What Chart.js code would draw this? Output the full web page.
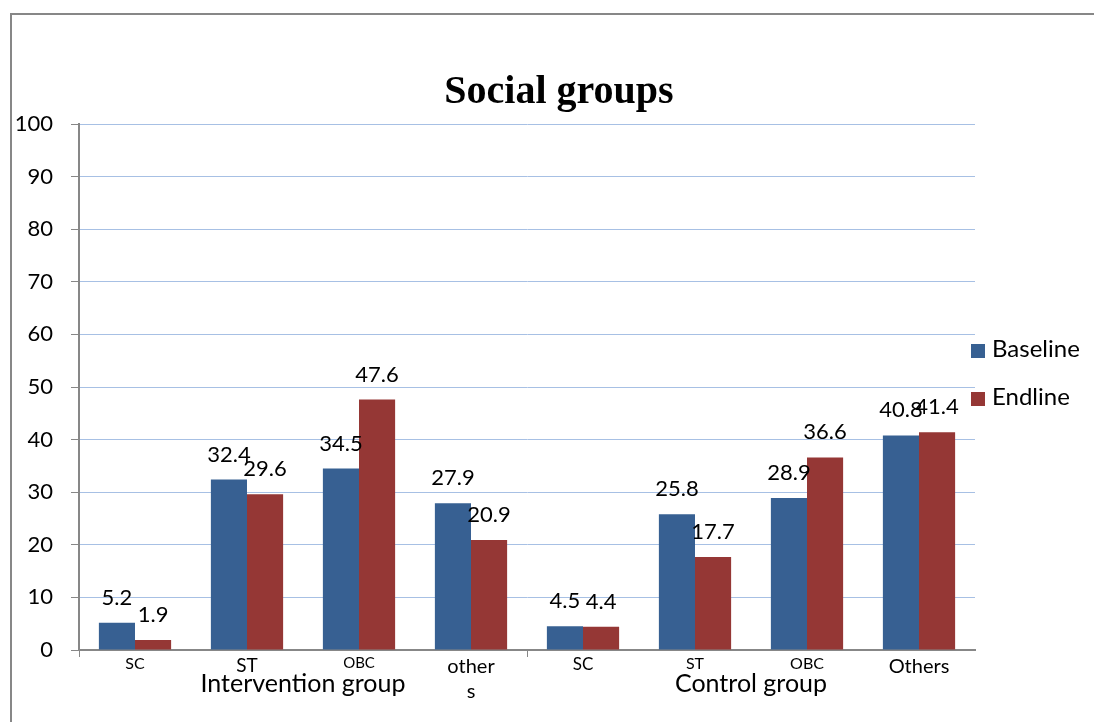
<!DOCTYPE html>
<html>
<head>
<meta charset="utf-8">
<title>Social groups</title>
<script src="https://cdn.jsdelivr.net/npm/chart.js@4/dist/chart.umd.min.js"></script>
<style>
  html, body { margin: 0; padding: 0; background: #fff; }
  #page { position: relative; width: 1094px; height: 722px; overflow: hidden; }
  #frame {
    position: absolute; left: 10px; top: 13px; width: 1200px; height: 800px;
    border-left: 2px solid #878787; border-top: 2px solid #878787;
  }
  #wrap { position: absolute; left: 0; top: 0; width: 1094px; height: 722px; }
  #title {
    position: absolute; left: 0; top: 66px; width: 1118px; text-align: center;
    font: bold 40px "Liberation Serif", "Times New Roman", serif; line-height: 48px; color: #000;
  }
  #legend { position: absolute; left: 971px; top: 334px; font: 24px Lato, sans-serif; color: #000; }
  #legend .item { height: 48px; line-height: 28px; white-space: nowrap; }
  #legend .swatch { display: inline-block; width: 14px; height: 14px; margin-right: 7px; vertical-align: -1px; }
</style>
</head>
<body>
<div id="page">
  <div id="frame"></div>
  <div id="wrap"><canvas id="socialChart"></canvas></div>
  <div id="title">Social groups</div>
  <div id="legend"></div>
</div>
<script>
// categories, two per-survey series and the group captions under the axis
const categories = ['SC', 'ST', 'OBC', ['other', 's'], 'SC', 'ST', 'OBC', 'Others'];
const baseline = [5.2, 32.4, 34.5, 27.9, 4.5, 25.8, 28.9, 40.8];
const endline = [1.9, 29.6, 47.6, 20.9, 4.4, 17.7, 36.6, 41.4];
const groups = ['Intervention group', 'Control group'];
const yTicks = [0, 10, 20, 30, 40, 50, 60, 70, 80, 90, 100];

const BLUE = '#376092';
const RED = '#953735';
const AXIS = '#878787';

// label sizes differ per category in the original workbook
const tickFontSizes = [16, 19, 15, 20, 17, 16, 16, 20];

const valueLabels = {
  id: 'valueLabels',
  afterDatasetsDraw(chart) {
    const ctx = chart.ctx;
    ctx.save();
    ctx.font = '22px Lato, sans-serif';
    ctx.fillStyle = '#000';
    ctx.textAlign = 'center';
    ctx.textBaseline = 'alphabetic';
    chart.data.datasets.forEach((ds, i) => {
      chart.getDatasetMeta(i).data.forEach((bar, j) => {
        ctx.fillText(ds.data[j].toFixed(1), bar.x, bar.y - 18);
      });
    });
    ctx.restore();
  }
};

const groupLabels = {
  id: 'groupLabels',
  afterDraw(chart) {
    const x = chart.scales.x;
    const per = categories.length / groups.length;
    const ctx = chart.ctx;
    ctx.save();
    ctx.font = '25px Lato, sans-serif';
    ctx.fillStyle = '#000';
    ctx.textAlign = 'center';
    ctx.textBaseline = 'middle';
    groups.forEach((g, i) => {
      const cx = (x.getPixelForTick(i * per) + x.getPixelForTick(i * per + per - 1)) / 2;
      ctx.fillText(g, cx, x.top + 34);
    });
    ctx.restore();
  }
};

const chart = new Chart(document.getElementById('socialChart'), {
  type: 'bar',
  data: {
    labels: categories,
    datasets: [
      { label: 'Baseline', data: baseline, backgroundColor: BLUE, borderWidth: 0 },
      { label: 'Endline', data: endline, backgroundColor: RED, borderWidth: 0 }
    ]
  },
  options: {
    responsive: true,
    maintainAspectRatio: false,
    animation: false,
    categoryPercentage: 0.645,
    barPercentage: 1,
    layout: { padding: { top: 124, left: 10, right: 119, bottom: 0 } },
    plugins: {
      legend: { display: false },
      title: { display: false },
      tooltip: { enabled: false }
    },
    scales: {
      x: {
        afterFit(scale) { scale.height = 72; },
        border: { color: AXIS, width: 2 },
        grid: {
          offset: true,
          drawOnChartArea: false,
          drawTicks: true,
          tickLength: 7,
          tickColor: (ctx) => ctx.index % 4 === 0 ? AXIS : 'rgba(0,0,0,0)'
        },
        ticks: {
          color: '#000',
          padding: -3,
          maxRotation: 0,
          autoSkip: false,
          font: (ctx) => ({ family: 'Lato, sans-serif', size: tickFontSizes[ctx.index] || 16, lineHeight: 1.25 })
        }
      },
      y: {
        min: 0,
        max: 100,
        afterFit(scale) { scale.width = 69; },
        afterBuildTicks(scale) { scale.ticks = yTicks.map(v => ({ value: v })); },
        border: { color: AXIS, width: 2 },
        grid: { color: '#A7C0E4', lineWidth: 1, tickLength: 8, tickColor: AXIS },
        ticks: { color: '#000', padding: 18, font: { family: 'Lato, sans-serif', size: 22 } }
      }
    }
  },
  plugins: [valueLabels, groupLabels]
});

// legend drawn as HTML so it can sit just right of the plot
document.getElementById('legend').innerHTML = chart.data.datasets.map(ds =>
  '<div class="item"><span class="swatch" style="background:' + ds.backgroundColor + '"></span>' + ds.label + '</div>'
).join('');
</script>
</body>
</html>
